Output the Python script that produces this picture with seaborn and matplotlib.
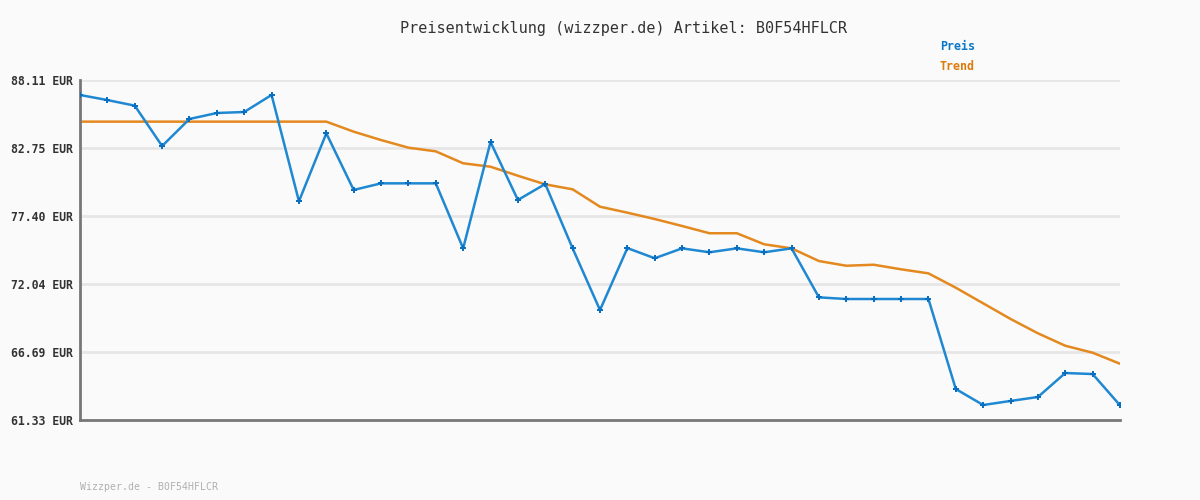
import seaborn as sns
import matplotlib.pyplot as plt
import pandas as pd

# Price values (39 data points)
preis = [86.93, 86.53, 86.09, 82.91, 85.04, 85.51, 85.59, 86.93, 78.56, 83.91,
         79.45, 79.97, 79.97, 79.97, 74.85, 83.23, 78.66, 79.92, 74.85, 69.99,
         74.87, 74.07, 74.85, 74.54, 74.85, 74.54, 74.85, 70.99, 70.86, 70.86,
         70.86, 70.86, 63.77, 62.51, 62.83, 63.14, 65.03, 64.95, 62.49]
trend = [84.83, 84.83, 84.83, 84.83, 84.83, 84.83, 84.83, 84.83, 84.83, 84.83,
         84.04, 83.38, 82.78, 82.49, 81.55, 81.28, 80.57, 79.89, 79.50, 78.13,
         77.66, 77.16, 76.61, 76.04, 76.04, 75.17, 74.85, 73.85, 73.48, 73.56,
         73.20, 72.88, 71.75, 70.52, 69.29, 68.16, 67.18, 66.63, 65.76]
y_ticks = [61.33, 66.69, 72.04, 77.40, 82.75, 88.11]

artikel = "B0F54HFLCR"
blue = '#1f88d2'
orange = '#e3891f'

df = pd.DataFrame({'idx': range(len(preis)), 'Preis': preis, 'Trend': trend})

sns.set_style('white')
plt.rcParams['font.family'] = ['DejaVu Sans Mono']

fig = plt.figure(figsize=(12, 5), dpi=100, facecolor='#fafafa')
ax = fig.add_axes([80 / 1200, 80 / 500, 1040 / 1200, 340 / 500])
ax.set_facecolor('#fafafa')

for y in y_ticks[1:]:
    ax.axhline(y, color='#e6e6e6', lw=2, zorder=0)

sns.lineplot(data=df, x='idx', y='Trend', ax=ax, color=orange, lw=1.8, zorder=2)
sns.lineplot(data=df, x='idx', y='Preis', ax=ax, color=blue, lw=1.8, zorder=3,
             marker='P', markersize=5, markeredgewidth=0, markerfacecolor='#0a6fbf')

ax.set_xlim(0, len(preis) - 1)
ax.set_ylim(y_ticks[0], y_ticks[-1])
ax.set_yticks(y_ticks)
ax.set_yticklabels([f"{v:.2f} EUR" for v in y_ticks], fontsize=8.3,
                   fontweight='bold', color='#333333')
ax.set_xticks([])
ax.set_xlabel('')
ax.set_ylabel('')
ax.tick_params(axis='y', length=0, pad=5)

for side in ['top', 'right']:
    ax.spines[side].set_visible(False)
for side in ['left', 'bottom']:
    ax.spines[side].set_color('#777777')
    ax.spines[side].set_linewidth(2)

fig.text(624 / 1200, 1 - 28 / 500, f"Preisentwicklung (wizzper.de) Artikel: {artikel}",
         ha='center', va='center', fontsize=10.9, color='#333333')
fig.text(940 / 1200, 1 - 47 / 500, 'Preis', ha='left', va='center',
         fontsize=8.4, fontweight='bold', color='#0a78c8')
fig.text(940 / 1200, 1 - 67 / 500, 'Trend', ha='left', va='center',
         fontsize=8.4, fontweight='bold', color='#dc7a0a')
fig.text(80 / 1200, 1 - 487 / 500, f"Wizzper.de - {artikel}", ha='left', va='center',
         fontsize=7.1, color='#b0b0b0')

fig.savefig('out.png', dpi=100, facecolor=fig.get_facecolor())
